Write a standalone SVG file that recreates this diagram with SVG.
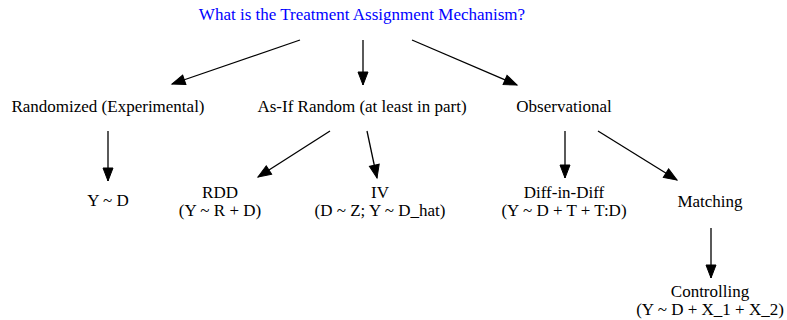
<svg xmlns="http://www.w3.org/2000/svg" width="787" height="320" viewBox="0 0 787 320">
<style>
text{font-family:"Liberation Serif","Times New Roman",serif;font-size:17px;fill:#000;text-anchor:middle}
.title{fill:#0000ff}
.edge{stroke:#000;stroke-width:1.3;fill:none;marker-end:url(#ah)}
</style>
<defs>
<marker id="ah" markerUnits="userSpaceOnUse" markerWidth="16" markerHeight="14" viewBox="0 0 16 14" refX="14" refY="7" orient="auto">
<path d="M1,2 L14,7 L1,12 Z" fill="#000" stroke="#000" stroke-width="1"/>
</marker>
</defs>
<rect width="787" height="320" fill="#fff"/>
<g id="connectors">
<path class="edge" d="M300,40 L172,84"/>
<path class="edge" d="M363,40 L363,85"/>
<path class="edge" d="M412,40 L517,85"/>
<path class="edge" d="M108,131 L108,181"/>
<path class="edge" d="M330,131 L258,177"/>
<path class="edge" d="M367,131 L377,178"/>
<path class="edge" d="M565,131 L565,178"/>
<path class="edge" d="M598,131 L677,180"/>
<path class="edge" d="M711,228 L711,278"/>
</g>
<g id="root"><text class="title" x="362" y="20">What is the Treatment Assignment Mechanism?</text></g>
<g id="randomized"><text x="108" y="112">Randomized (Experimental)</text></g>
<g id="asif"><text x="362" y="112">As-If Random (at least in part)</text></g>
<g id="observational"><text x="564" y="112">Observational</text></g>
<g id="yd"><text x="108" y="206">Y ~ D</text></g>
<g id="rdd"><text x="220" y="198">RDD</text><text x="220" y="216">(Y ~ R + D)</text></g>
<g id="iv"><text x="380" y="198">IV</text><text x="380" y="216">(D ~ Z; Y ~ D_hat)</text></g>
<g id="did"><text x="564" y="198">Diff-in-Diff</text><text x="564" y="216">(Y ~ D + T + T:D)</text></g>
<g id="matching"><text x="710" y="207">Matching</text></g>
<g id="controlling"><text x="710" y="297">Controlling</text><text x="710" y="315">(Y ~ D + X_1 + X_2)</text></g>
</svg>
